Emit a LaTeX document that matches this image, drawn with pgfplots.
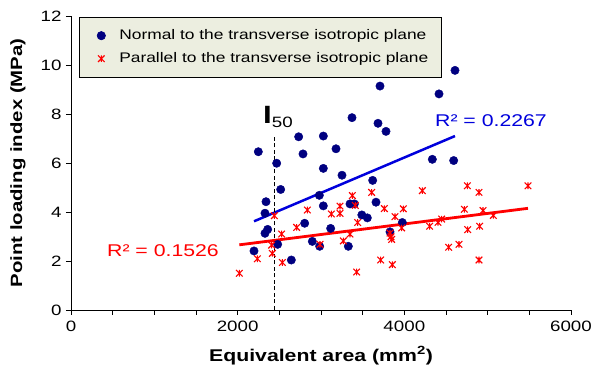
\documentclass[border=0pt]{standalone}
\usepackage{fontspec}
\setmainfont{Liberation Sans}[FakeStretch=1.25]
\usepackage{pgfplots}
\pgfplotsset{compat=1.18}
\definecolor{navy}{RGB}{0,0,128}
\definecolor{tblue}{RGB}{0,0,220}
\definecolor{legfill}{RGB}{236,238,224}
\pgfdeclareplotmark{xstar}{%
  \pgfpathmoveto{\pgfqpoint{-\pgfplotmarksize}{-\pgfplotmarksize}}%
  \pgfpathlineto{\pgfqpoint{\pgfplotmarksize}{\pgfplotmarksize}}%
  \pgfpathmoveto{\pgfqpoint{-\pgfplotmarksize}{\pgfplotmarksize}}%
  \pgfpathlineto{\pgfqpoint{\pgfplotmarksize}{-\pgfplotmarksize}}%
  \pgfpathmoveto{\pgfqpoint{0pt}{-\pgfplotmarksize}}%
  \pgfpathlineto{\pgfqpoint{0pt}{\pgfplotmarksize}}%
  \pgfusepathqstroke}
\pgfplotstableread{
x y
2196 2.41
2248 6.46
2328 3.13
2360 3.29
2328 3.95
2340 4.42
2468 5.99
2480 2.68
2516 4.92
2644 2.04
2732 7.07
2784 6.37
2804 3.54
2896 2.80
2980 4.68
2984 2.60
3028 7.10
3028 5.78
3028 4.25
3116 3.33
3180 6.58
3252 5.50
3328 2.60
3348 4.33
3400 4.33
3372 7.85
3490 3.88
3556 3.76
3620 5.29
3660 4.40
3684 7.62
3708 9.14
3780 7.29
3828 3.19
3976 3.57
4336 6.15
4416 8.82
4592 6.10
4608 9.78
}\normaldata
\pgfplotstableread{
x y
2020 1.50
2236 2.09
2408 2.65
2416 2.31
2440 3.85
2528 3.10
2536 1.94
2708 3.37
2836 4.08
2988 2.68
3124 3.92
3228 3.94
3228 4.24
3268 2.82
3348 3.10
3376 4.67
3412 4.27
3428 1.55
3440 3.57
3608 4.80
3716 2.04
3760 4.14
3828 3.14
3840 2.99
3848 2.88
3856 1.85
3888 3.81
3968 3.35
3988 4.13
4216 4.87
4304 3.42
4404 3.58
4448 3.71
4532 2.56
4656 2.68
4720 4.11
4756 5.07
4760 3.28
4896 4.80
4896 2.04
4904 3.42
4944 4.06
5068 3.86
5484 5.07
}\paralleldata
\begin{document}
\begin{tikzpicture}
\begin{axis}[
  scale only axis, width=500pt, height=294pt,
  xmin=0, xmax=6000, ymin=0, ymax=12,
  axis x line*=bottom, axis y line*=left,
  axis line style={line width=0.8pt},
  xtick={0,2000,4000,6000}, ytick={0,2,4,6,8,10,12},
  xminorticks=true, minor x tick num=3,
  yminorticks=false,
  tick align=outside, major tick length=5pt, minor tick length=5pt,
  tick style={black, line width=0.8pt},
  minor tick style={black, line width=0.8pt},
  scaled ticks=false,
  /pgf/number format/1000 sep={},
  /pgf/number format/assume math mode=true,
  tick label style={font=\fontsize{15}{17}\selectfont},
  xticklabel style={yshift=-2pt},
  yticklabel style={xshift=-1pt},
  xlabel={\textbf{Equivalent area (mm\textsuperscript{2})}},
  ylabel={\textbf{Point loading index (MPa)}},
  xlabel style={font=\fontsize{17}{19}\selectfont, at={(axis description cs:0.5,-0.155)}, anchor=center},
  ylabel style={font=\fontsize{16.3}{19}\selectfont, at={(axis description cs:-0.106,0.5)}, anchor=center, rotate=0},
  clip=false,
  legend cell align=left,
  legend image code/.code={%
    \path[draw=none, fill=none] (-10pt,-9pt) rectangle (17pt,9pt);
    \draw[#1] plot coordinates {(0pt,0pt)};},
  legend style={at={(rel axis cs:0.016,0.997)}, anchor=north west,
    fill=legfill, draw=black, line width=0.6pt,
    font=\fontsize{13.9}{16}\selectfont,
    inner xsep=12pt, inner ysep=9.5pt, row sep=5pt,
    nodes={inner sep=1pt}},
]
\addplot[only marks, mark=*, mark size=4.2pt, mark options={fill=navy, draw=navy}]
  table[x=x,y=y] {\normaldata};
\addlegendentry{Normal to the transverse isotropic plane}
\addplot[only marks, mark=xstar, mark size=3.3pt, mark options={draw=red, line width=1.1pt}]
  table[x=x,y=y] {\paralleldata};
\addlegendentry{Parallel to the transverse isotropic plane}
\addplot[tblue, line width=2.5pt, forget plot] coordinates {(2196,3.62) (4608,7.10)};
\addplot[red, line width=2.8pt, forget plot] coordinates {(2020,2.66) (5484,4.15)};
\addplot[black, line width=1pt, dash pattern=on 4pt off 2.5pt, forget plot] coordinates {(2440,0) (2440,7.14)};
\node[text=tblue, font=\fontsize{17}{19}\selectfont] at (axis cs:5040,7.71) {R² = 0.2267};
\node[text=red, font=\fontsize{17}{19}\selectfont] at (axis cs:1104,2.41) {R² = 0.1526};
\node[anchor=base west, inner sep=0pt] at (axis cs:2304,7.63)
  {{\fontsize{25}{25}\selectfont\bfseries I}{\fontsize{15}{15}\selectfont\raisebox{-4pt}{50}}};
\coordinate (sw) at (rel axis cs:0,0);
\coordinate (ne) at (rel axis cs:1,1);
\end{axis}
\pgfresetboundingbox
\path ([shift={(-71pt,-61pt)}]sw) rectangle ([shift={(23pt,16pt)}]ne);
\end{tikzpicture}
\end{document}
